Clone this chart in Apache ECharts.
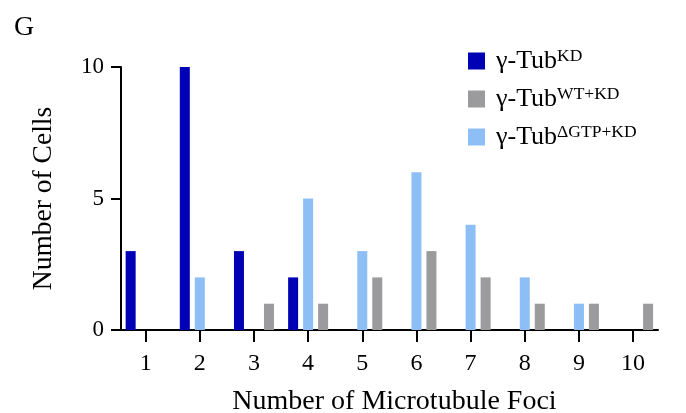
<!DOCTYPE html>
<html>
<head>
<meta charset="utf-8">
<script src="https://cdn.jsdelivr.net/npm/echarts@6/dist/echarts.min.js"></script>
<style>
  html, body { margin: 0; padding: 0; background: #fff; }
  #chart { width: 686px; height: 413px; }
</style>
</head>
<body>
<div id="chart"></div>
<script>
// Number of microtubule foci per cell (x) and how many cells showed each count
const fociCounts = [1, 2, 3, 4, 5, 6, 7, 8, 9, 10];
const cellsKD     = [3, 10, 3, 2, 0, 0, 0, 0, 0, 0];
const cellsDGTPKD = [0, 2, 0, 5, 3, 6, 4, 2, 1, 0];
const cellsWTKD   = [0, 0, 1, 1, 2, 3, 2, 1, 1, 1];
const yTicks = [0, 5, 10];

const seriesNames = ['KD', 'WT+KD', '\u0394GTP+KD'];
const colors = { 'KD': '#0000b4', 'WT+KD': '#9b9b9e', '\u0394GTP+KD': '#8dbef5' };

const serif = '"Liberation Serif", "DejaVu Serif", serif';

function pairs(values) {
  return fociCounts.map((x, i) => [x, values[i]]);
}

function barSeries(name, values) {
  return {
    name: name,
    type: 'bar',
    data: pairs(values),
    barWidth: 10,
    barGap: '50%',
    itemStyle: { color: colors[name] },
    emphasis: { disabled: true }
  };
}

const chart = echarts.init(document.getElementById('chart'), null, { renderer: 'canvas' });

chart.setOption({
  animation: false,
  backgroundColor: '#ffffff',
  title: {
    text: 'G',
    left: 9,
    top: 9,
    textStyle: { fontFamily: serif, fontWeight: 'normal', fontSize: 28, color: '#000' }
  },
  legend: {
    orient: 'vertical',
    left: 463,
    top: 42,
    icon: 'rect',
    itemWidth: 17,
    itemHeight: 17,
    itemGap: 11,
    data: seriesNames,
    selectedMode: false,
    formatter: name => '{m|\u03b3-Tub}{s|' + name + '}',
    textStyle: {
      fontFamily: serif,
      color: '#000',
      rich: {
        m: { fontFamily: serif, fontSize: 26, lineHeight: 28, color: '#000', padding: [0, 0, 0, 6] },
        s: { fontFamily: serif, fontSize: 17.5, lineHeight: 17, color: '#000', verticalAlign: 'top' }
      }
    }
  },
  grid: { left: 121, right: 28, top: 67, bottom: 83, containLabel: false, outerBoundsMode: 'none' },
  xAxis: {
    type: 'value',
    min: 0.545,
    max: 10.46,
    name: 'Number of Microtubule Foci',
    nameLocation: 'middle',
    nameGap: 58,
    nameTextStyle: { fontFamily: serif, fontSize: 28, color: '#000', padding: [0, 0, 0, 10] },
    axisLine: { show: true, onZero: false, lineStyle: { color: '#000', width: 2 } },
    axisTick: { show: true, length: 12, customValues: fociCounts, lineStyle: { color: '#000', width: 2 } },
    axisLabel: { customValues: fociCounts, margin: 22, fontFamily: serif, fontSize: 24, color: '#000' },
    splitLine: { show: false }
  },
  yAxis: {
    type: 'value',
    min: 0,
    max: 10,
    interval: 5,
    name: 'Number of Cells',
    nameLocation: 'middle',
    nameGap: 63,
    nameRotate: 90,
    nameTextStyle: { fontFamily: serif, fontSize: 27.5, color: '#000' },
    axisLine: { show: true, lineStyle: { color: '#000', width: 2 } },
    axisTick: { show: true, length: 10, lineStyle: { color: '#000', width: 2 } },
    axisLabel: {
      margin: 17,
      fontFamily: serif,
      fontSize: 23,
      color: '#000',
      formatter: v => (yTicks.indexOf(v) >= 0 ? String(v) : '')
    },
    splitLine: { show: false }
  },
  series: [
    barSeries('KD', cellsKD),
    barSeries('\u0394GTP+KD', cellsDGTPKD),
    barSeries('WT+KD', cellsWTKD)
  ]
});
</script>
</body>
</html>
